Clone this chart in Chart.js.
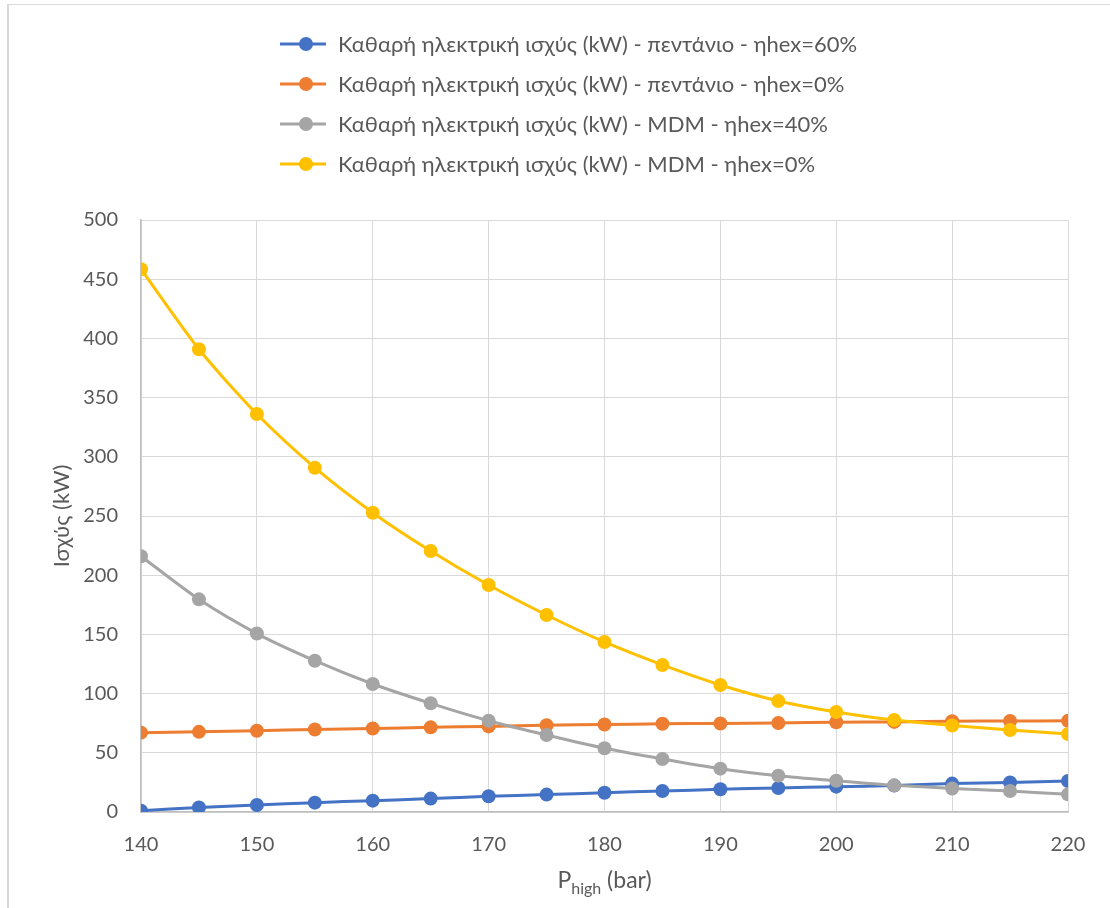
<!DOCTYPE html>
<html>
<head>
<meta charset="utf-8">
<script src="https://cdn.jsdelivr.net/npm/chart.js@4/dist/chart.umd.min.js"></script>
<style>
  html, body { margin: 0; padding: 0; background: #ffffff; }
  #wrap { position: relative; width: 1110px; height: 908px; }
  canvas { display: block; }
</style>
</head>
<body>
<div id="wrap"><canvas id="chart" width="1110" height="908"></canvas></div>
<script>
// High-side pressure (bar)
const pressures = [140, 145, 150, 155, 160, 165, 170, 175, 180, 185, 190, 195, 200, 205, 210, 215, 220];

// Net electric power (kW) per working fluid / recuperator effectiveness
const pentaneHex60 = [1.1, 3.9, 5.9, 7.9, 9.6, 11.3, 13.3, 14.7, 16.3, 17.7, 19.2, 20.3, 21.4, 22.3, 24.0, 24.9, 26.2];
const pentaneHex0  = [67.0, 67.7, 68.6, 69.7, 70.5, 71.5, 72.3, 73.3, 73.9, 74.5, 74.8, 75.2, 75.8, 76.1, 76.6, 76.9, 77.0];
const mdmHex40     = [216.0, 179.6, 150.7, 127.8, 108.1, 91.8, 77.1, 65.0, 53.8, 44.8, 36.6, 30.7, 26.4, 22.5, 19.9, 17.7, 14.9];
const mdmHex0      = [458.4, 390.8, 336.1, 290.8, 252.8, 220.4, 191.7, 166.4, 143.6, 124.2, 107.3, 93.8, 84.5, 77.7, 73.1, 69.3, 65.9];

const seriesLabels = [
  'Καθαρή ηλεκτρική ισχύς (kW) - πεντάνιο - ηhex=60%',
  'Καθαρή ηλεκτρική ισχύς (kW) - πεντάνιο - ηhex=0%',
  'Καθαρή ηλεκτρική ισχύς (kW) - MDM - ηhex=40%',
  'Καθαρή ηλεκτρική ισχύς (kW) - MDM - ηhex=0%'
];
const seriesValues = [pentaneHex60, pentaneHex0, mdmHex40, mdmHex0];
const seriesColors = ['#4472C4', '#ED7D31', '#A5A5A5', '#FFC000'];

const xTicks = [140, 150, 160, 170, 180, 190, 200, 210, 220];
const yTicks = [0, 50, 100, 150, 200, 250, 300, 350, 400, 450, 500];

const yTitle = 'Ισχύς (kW)';
const xTitleMain = 'P';
const xTitleSub = 'high';
const xTitleRest = ' (bar)';

const FONT = 'Lato, "Open Sans", sans-serif';
const TEXT = '#595959';

const datasets = seriesValues.map((vals, i) => ({
  label: seriesLabels[i],
  data: pressures.map((p, j) => ({ x: p, y: vals[j] })),
  borderColor: seriesColors[i],
  backgroundColor: seriesColors[i],
  pointBackgroundColor: seriesColors[i],
  pointBorderColor: seriesColors[i],
  borderWidth: 3,
  pointRadius: 7,
  pointBorderWidth: 0,
  tension: 0.25,
  order: seriesValues.length - i
}));

// Frame, stacked legend and axis titles
const decorations = {
  id: 'decorations',
  beforeDraw(chart) {
    const ctx = chart.ctx;
    ctx.save();
    ctx.fillStyle = '#ffffff';
    ctx.fillRect(0, 0, chart.width, chart.height);
    ctx.strokeStyle = '#d9d9d9';
    ctx.lineWidth = 2;
    ctx.beginPath();
    ctx.moveTo(8, chart.height);
    ctx.lineTo(8, 4.5);
    ctx.stroke();
    ctx.lineWidth = 1;
    ctx.beginPath();
    ctx.moveTo(7, 4.5);
    ctx.lineTo(chart.width, 4.5);
    ctx.stroke();
    ctx.restore();
  },
  afterDraw(chart) {
    const ctx = chart.ctx;
    const area = chart.chartArea;
    ctx.save();
    // legend
    const rowY = [44, 84, 124, 164];
    ctx.font = '22px ' + FONT;
    ctx.textBaseline = 'middle';
    ctx.textAlign = 'left';
    chart.data.datasets.forEach((ds, i) => {
      const y = rowY[i];
      ctx.strokeStyle = ds.borderColor;
      ctx.lineWidth = 3;
      ctx.beginPath();
      ctx.moveTo(280, y);
      ctx.lineTo(326, y);
      ctx.stroke();
      ctx.fillStyle = ds.borderColor;
      ctx.beginPath();
      ctx.arc(306, y, 7, 0, Math.PI * 2);
      ctx.fill();
      ctx.fillStyle = TEXT;
      ctx.fillText(ds.label, 338, y + 1);
    });
    // y axis title
    ctx.save();
    ctx.translate(62, (area.top + area.bottom) / 2);
    ctx.rotate(-Math.PI / 2);
    ctx.textAlign = 'center';
    ctx.textBaseline = 'middle';
    ctx.font = '22px ' + FONT;
    ctx.fillStyle = TEXT;
    ctx.fillText(yTitle, 0, 0);
    ctx.restore();
    // x axis title with subscript
    const mainFont = '23px ' + FONT;
    const subFont = '16px ' + FONT;
    ctx.font = mainFont;
    const w1 = ctx.measureText(xTitleMain).width;
    const w3 = ctx.measureText(xTitleRest).width;
    ctx.font = subFont;
    const w2 = ctx.measureText(xTitleSub).width;
    const total = w1 + w2 + w3;
    let x = (area.left + area.right) / 2 - total / 2;
    const base = 888;
    ctx.textAlign = 'left';
    ctx.textBaseline = 'alphabetic';
    ctx.fillStyle = TEXT;
    ctx.font = mainFont;
    ctx.fillText(xTitleMain, x, base);
    x += w1;
    ctx.font = subFont;
    ctx.fillText(xTitleSub, x, base + 6);
    x += w2;
    ctx.font = mainFont;
    ctx.fillText(xTitleRest, x, base);
    ctx.restore();
  }
};

new Chart(document.getElementById('chart'), {
  type: 'line',
  data: { datasets },
  options: {
    responsive: false,
    animation: false,
    layout: { padding: { top: 220, right: 42, left: 0, bottom: 0 } },
    plugins: {
      legend: { display: false },
      tooltip: { enabled: false },
      title: { display: false }
    },
    scales: {
      x: {
        type: 'linear',
        min: xTicks[0],
        max: xTicks[xTicks.length - 1],
        afterBuildTicks(scale) { scale.ticks = xTicks.map(v => ({ value: v })); },
        afterFit(scale) { scale.height = 96; },
        grid: { color: '#d9d9d9', lineWidth: 1, drawTicks: false },
        border: { color: '#bfbfbf', width: 1.5 },
        ticks: { color: TEXT, font: { family: FONT, size: 20 }, padding: 21, maxRotation: 0, autoSkip: false }
      },
      y: {
        min: yTicks[0],
        max: yTicks[yTicks.length - 1],
        afterBuildTicks(scale) { scale.ticks = yTicks.map(v => ({ value: v })); },
        afterFit(scale) { scale.width = 141; },
        grid: { color: '#d9d9d9', lineWidth: 1, drawTicks: false },
        border: { color: '#bfbfbf', width: 1.5 },
        ticks: { color: TEXT, font: { family: FONT, size: 20 }, padding: 23 }
      }
    }
  },
  plugins: [decorations]
});
</script>
</body>
</html>
